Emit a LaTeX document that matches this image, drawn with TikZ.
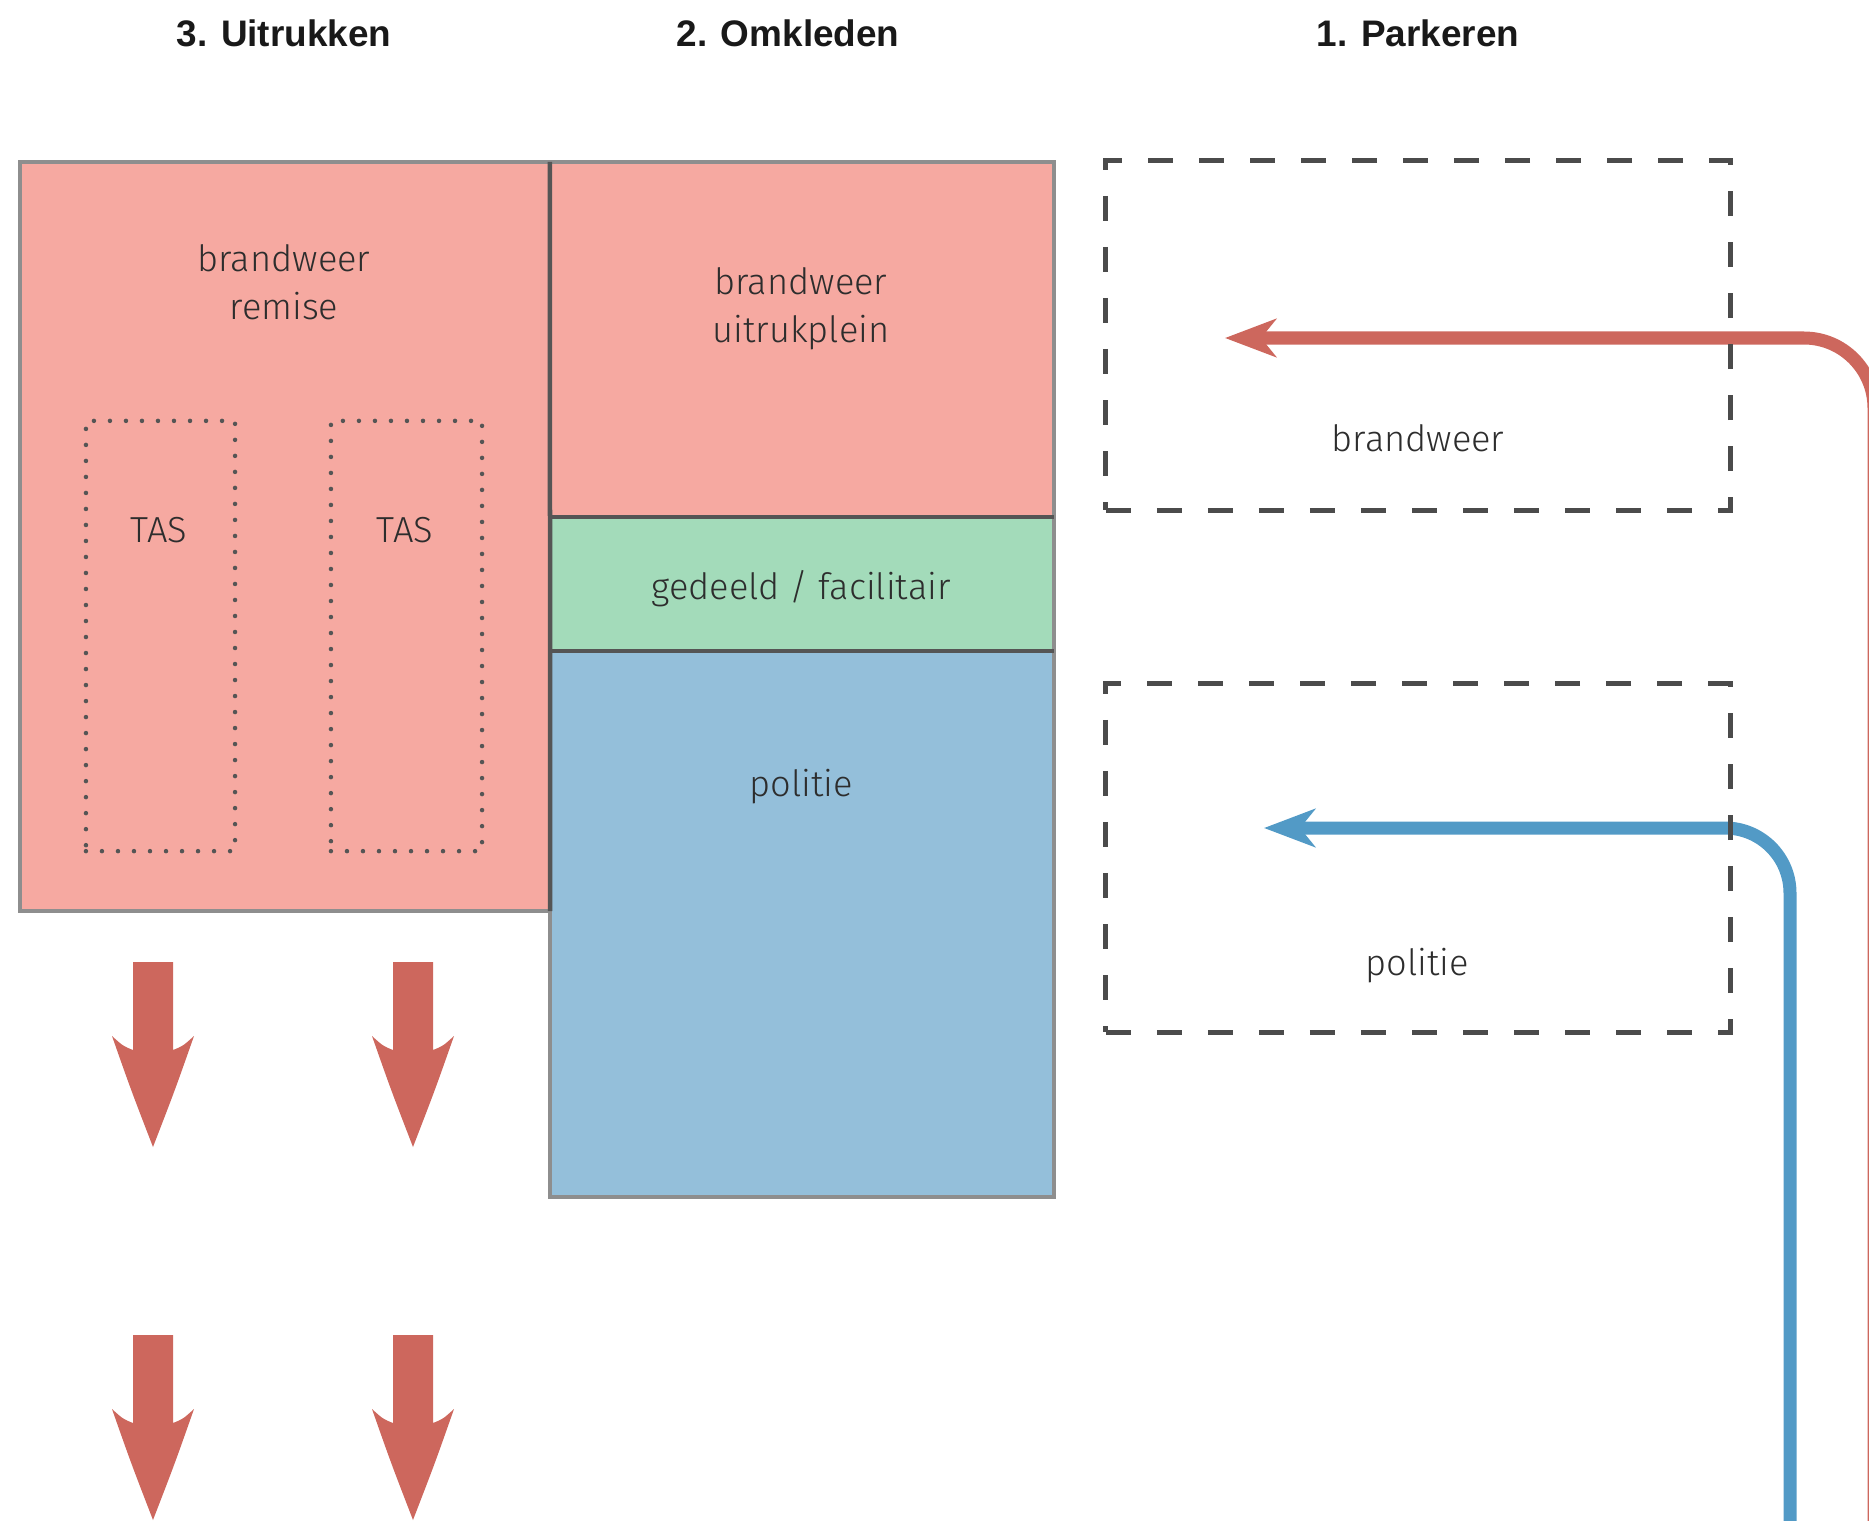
\documentclass[tikz,border=0pt]{standalone}
\usepackage{fontspec}
\setmainfont{Liberation Sans}
\newfontfamily\lightfont{Fira Sans}[UprightFont={* Light}]
\usetikzlibrary{arrows.meta, positioning}
\definecolor{firepink}{RGB}{246, 169, 161}
\definecolor{sharedgreen}{RGB}{163, 219, 186}
\definecolor{policeblue}{RGB}{148, 191, 218}
\definecolor{firered}{RGB}{205, 103, 93}
\definecolor{routeblue}{RGB}{82, 154, 198}
\definecolor{zonegray}{RGB}{142, 142, 142}
\definecolor{wallgray}{RGB}{85, 85, 85}
\definecolor{dashgray}{RGB}{75, 75, 75}
\definecolor{textgray}{RGB}{45, 45, 45}
\tikzstyle{zone} = [rectangle, draw=zonegray, line width=0.045cm, inner sep=0pt, outer sep=0pt]
\tikzstyle{wall} = [draw=wallgray, line width=0.045cm]
\tikzstyle{tasbox} = [rectangle, draw=wallgray, line width=0.045cm, line cap=round,
                      dash pattern=on 0pt off 0.16cm, inner sep=0pt]
\tikzstyle{parkbox} = [rectangle, draw=dashgray, line width=0.05cm,
                       dash pattern=on 0.25cm off 0.26cm, inner sep=0pt]
\tikzstyle{zonetext} = [font=\lightfont\fontsize{10.3}{13.7}\selectfont, text=textgray, align=center]
\tikzstyle{heading} = [font=\bfseries\fontsize{10.5}{12}\selectfont, text=black!90]
\tikzstyle{route} = [line width=0.13cm, -{Stealth[length=0.51cm, width=0.38cm, inset=0.15cm]}]
\tikzstyle{bigarrow} = [fill=firered, draw=none]

\begin{document}
\begin{tikzpicture}[x=0.01cm, y=-0.01cm]
\useasboundingbox (0,0) rectangle (1869,1521);

% Headings
\node[heading] (h3) at (284, 33) {3. Uitrukken};
\node[heading] (h2) at (788, 33) {2. Omkleden};
\node[heading] (h1) at (1418, 33) {1. Parkeren};

% Column 3: remise
\node[zone, fill=firepink, minimum width=5.3cm, minimum height=7.49cm] (remise) at (285, 536.5) {};
\node[tasbox, minimum width=1.49cm, minimum height=4.3cm] (tas1) at (160.5, 636) {};
\node[tasbox, minimum width=1.51cm, minimum height=4.3cm] (tas2) at (406.5, 636) {};
\node[zonetext] at (284, 282) {brandweer\\remise};
\node[zonetext] at (159, 530) {TAS};
\node[zonetext] at (405, 530) {TAS};

% Column 2: omkleden
\node[zone, fill=firepink, minimum width=5.04cm, minimum height=3.55cm] (plein) at (802, 339.5) {};
\node[zone, fill=sharedgreen, minimum width=5.04cm, minimum height=1.34cm] (gedeeld) at (802, 584) {};
\node[zone, fill=policeblue, minimum width=5.04cm, minimum height=5.46cm] (politie) at (802, 924) {};
\draw[wall] (plein.north west) -- (remise.south east);
\draw[wall] (plein.south west) -- (plein.south east);
\draw[wall] (gedeeld.south west) -- (gedeeld.south east);
\node[zonetext] at (801, 309) {brandweer\\uitrukplein};
\node[zonetext] at (801, 589) {gedeeld / facilitair};
\node[zonetext] at (801, 787) {politie};

% Routes in
\coordinate (firein) at (1874, 1560);
\coordinate (fireend) at (1225, 338);
\coordinate (policein) at (1790, 1560);
\coordinate (policeend) at (1264, 828);
\draw[route, firered, rounded corners=0.7cm] (firein) |- (fireend);
\draw[route, routeblue, rounded corners=0.65cm] (policein) |- (policeend);

% Column 1: parkeren
\node[parkbox, minimum width=6.24cm, minimum height=3.49cm] (parkfire) at (1418, 335.5) {};
\node[parkbox, minimum width=6.24cm, minimum height=3.48cm] (parkpolice) at (1418, 858) {};
\node[zonetext] at (1418, 438) {brandweer};
\node[zonetext] at (1417, 966) {politie};

% Uitrukken arrows
\foreach \cx in {153, 413}
  \foreach \top in {962, 1335}
    \fill[bigarrow] (\cx-20, \top) -- (\cx+20, \top) -- (\cx+20, \top+88)
      .. controls (\cx+30, \top+84) .. (\cx+41, \top+74)
      .. controls (\cx+22, \top+128) .. (\cx, \top+185)
      .. controls (\cx-22, \top+128) .. (\cx-41, \top+74)
      .. controls (\cx-30, \top+84) .. (\cx-20, \top+88) -- cycle;

\end{tikzpicture}
\end{document}
